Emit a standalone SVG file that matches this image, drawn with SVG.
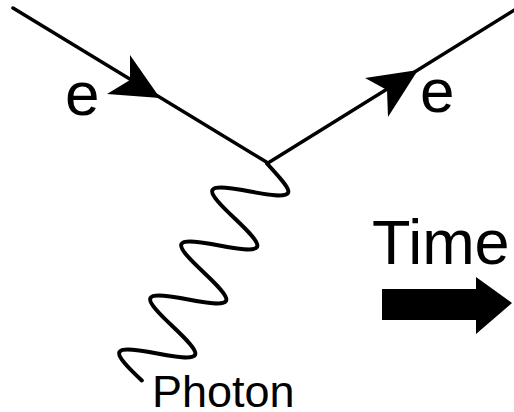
<svg xmlns="http://www.w3.org/2000/svg" width="514" height="412" viewBox="0 0 514 412">
<style>
.line{fill:none;stroke:#000;stroke-width:3.5;stroke-linecap:round}
.wave{fill:none;stroke:#000;stroke-width:4;stroke-linecap:round;stroke-linejoin:round}
.head{fill:#000;stroke:none}
.lbl{font-family:"Liberation Sans",Arial,sans-serif;fill:#000}
</style>
<rect width="514" height="412" fill="#fff"/>
<g id="connectors">
<line class="line" x1="13" y1="8" x2="268" y2="163"/>
<line class="line" x1="268" y1="163" x2="516" y2="9"/>
<polygon class="head" points="160,98 130,55 130,80 107,94"/>
<polygon class="head" points="418,70 365,78 387,90 388,117"/>
<path class="wave" d="M 267,163.5 C 278.9,176.9 290.6,188.5 288,193 C 285.4,197.5 268.5,194.9 250.3,191.5 C 232,188.1 215.1,185.5 212.5,190 C 209.9,194.5 221.6,206.1 234.8,218.5 C 247.9,230.9 259.6,242.5 257,247 C 254.4,251.5 237.5,248.9 219.3,245.5 C 201,242.1 184.1,239.5 181.5,244 C 178.9,248.5 190.6,260.1 203.8,272.5 C 216.9,284.9 228.6,296.5 226,301 C 223.4,305.5 206.5,302.9 188.3,299.5 C 170,296.1 153.1,293.5 150.5,298 C 147.9,302.5 159.6,314.1 172.8,326.5 C 185.9,338.9 197.6,350.5 195,355 C 192.4,359.5 175.5,356.9 157.3,353.5 C 139,350.1 122.1,347.5 119.5,352 C 116.9,356.5 128.6,368.1 141.8,380.5"/>
</g>
<g id="label-e-in"><text class="lbl" x="65" y="115" font-size="62">e</text></g>
<g id="label-e-out"><text class="lbl" x="420" y="112" font-size="62">e</text></g>
<g id="label-photon"><text class="lbl" x="152" y="407" font-size="45">Photon</text></g>
<g id="time">
<text class="lbl" x="372" y="264" font-size="63">Time</text>
<polygon class="head" points="382,289 476,289 476,277 512,303 476,334 476,320 382,320"/>
</g>
</svg>
